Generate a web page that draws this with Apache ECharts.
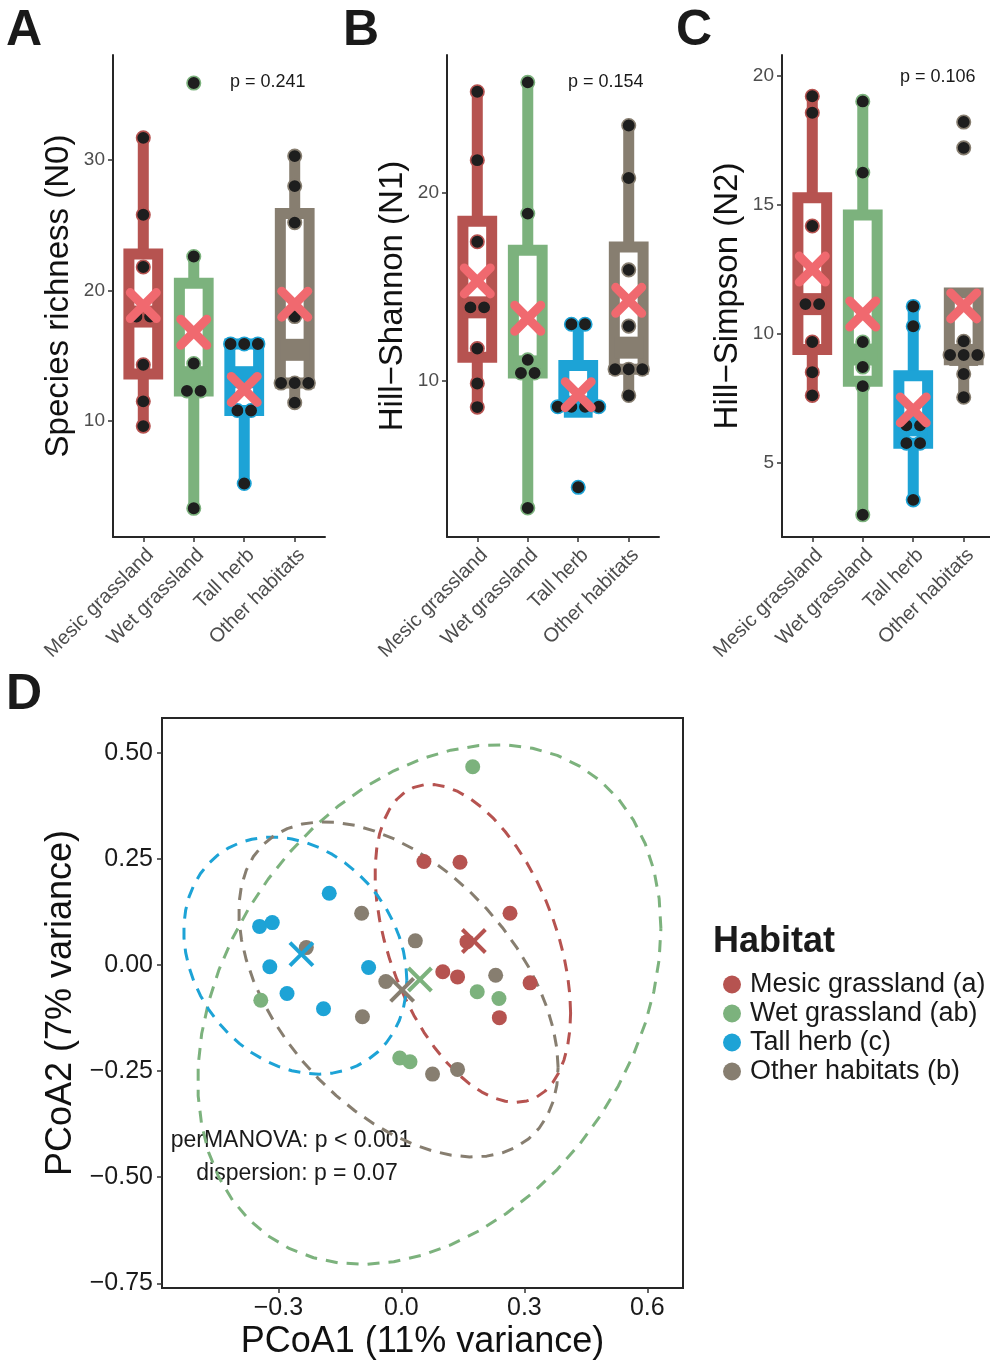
<!DOCTYPE html>
<html><head><meta charset="utf-8">
<script src="https://cdn.jsdelivr.net/npm/echarts@6/dist/echarts.min.js"></script>
<style>html,body{margin:0;padding:0;background:#fff}#c{width:990px;height:1363px}</style>
</head><body><div id="c"></div>
<script>
// ---------------- data ----------------
const categories = ['Mesic grassland', 'Wet grassland', 'Tall herb', 'Other habitats'];
const legendNames = ['Mesic grassland (a)', 'Wet grassland (ab)', 'Tall herb (c)', 'Other habitats (b)'];

// Panel A: Species richness (N0)
const richMesic = [31.7, 25.8, 21.8, 18.0, 18.0, 14.3, 11.5, 9.6];
const richWet   = [35.9, 22.6, 14.4, 12.3, 12.3, 3.3];
const richTall  = [15.9, 15.9, 15.9, 10.8, 10.8, 5.2];
const richOther = [30.3, 28.0, 25.2, 18.0, 12.9, 12.9, 12.9, 11.4];
const richTicks = [10, 20, 30];

// Panel B: Hill-Shannon (N1)
const shanMesic = [25.4, 21.75, 17.4, 13.9, 13.9, 11.7, 9.84, 8.58];
const shanWet   = [25.9, 18.9, 11.1, 10.4, 10.4, 3.2];
const shanTall  = [13.0, 13.0, 8.6, 8.6, 8.6, 8.6, 4.3];
const shanOther = [23.6, 20.8, 15.9, 12.9, 10.6, 10.6, 10.6, 9.2];
const shanTicks = [10, 20];

// Panel C: Hill-Simpson (N2)
const simpMesic = [19.2, 18.56, 14.17, 11.14, 11.14, 9.67, 8.5, 7.6];
const simpWet   = [19.0, 16.24, 9.67, 8.7, 7.96, 2.97];
const simpTall  = [11.05, 10.28, 6.44, 6.44, 5.75, 5.75, 3.55];
const simpOther = [18.2, 17.2, 9.7, 9.17, 9.17, 9.17, 8.43, 7.53];
const simpTicks = [5, 10, 15, 20];

const pValues = ['p = 0.241', 'p = 0.154', 'p = 0.106'];

// Panel D: PCoA scores [PCoA1, PCoA2]
const pcoaMesic = [[0.055, 0.244], [0.143, 0.242], [0.265, 0.122], [0.160, 0.055], [0.101, -0.016], [0.137, -0.028], [0.314, -0.042], [0.239, -0.124]];
const pcoaWet   = [[0.174, 0.467], [-0.343, -0.083], [0.185, -0.063], [0.238, -0.079], [-0.004, -0.219], [0.021, -0.228]];
const pcoaTall  = [[-0.176, 0.169], [-0.346, 0.091], [-0.315, 0.100], [-0.321, -0.004], [-0.080, -0.006], [-0.279, -0.067], [-0.190, -0.103]];
const pcoaOther = [[-0.097, 0.122], [0.034, 0.057], [-0.232, 0.041], [-0.038, -0.039], [0.230, -0.024], [-0.095, -0.122], [0.076, -0.257], [0.137, -0.246]];
const pcoaXTicks = [-0.3, 0, 0.3, 0.6];
const pcoaYTicks = [-0.75, -0.5, -0.25, 0, 0.25, 0.5];
const statsText = ['perMANOVA: p < 0.001', 'dispersion: p = 0.07'];

// ---------------- style ----------------
const FONT = '"Liberation Sans", Arial, Helvetica, sans-serif';
const COLORS = ['#B65350', '#7CB27D', '#1DA3D6', '#877E70'];
const MEAN_COLOR = '#F0696F';
const DOT_COLOR = '#1e1e1e';
const AXIS_COLOR = '#262626';
const BOX_W = 0.57, BOX_LW = 11, DOT_STEP = 0.27;

// ---------------- helpers ----------------
function quantile(s, p) {
  const h = (s.length - 1) * p, lo = Math.floor(h);
  const hi = Math.min(lo + 1, s.length - 1);
  return s[lo] + (h - lo) * (s[hi] - s[lo]);
}
function boxStats(vals) {
  const s = vals.slice().sort((a, b) => a - b);
  const q1 = quantile(s, 0.25), med = quantile(s, 0.5), q3 = quantile(s, 0.75);
  const iqr = q3 - q1;
  const inside = s.filter(v => v >= q1 - 1.5 * iqr && v <= q3 + 1.5 * iqr);
  return [Math.min(...inside), q1, med, q3, Math.max(...inside)];
}
function mean(a) { return a.reduce((x, y) => x + y, 0) / a.length; }
function dotLayout(values, center) {
  const counts = {}, seen = {};
  values.forEach(v => counts[v] = (counts[v] || 0) + 1);
  return values.map(v => {
    const k = counts[v]; const j = seen[v] = (seen[v] || 0) + 1;
    return [center + (j - 1 - (k - 1) / 2) * DOT_STEP, v];
  });
}
// MASS::cov.trob (nu = 5) for 2-D data
function covTrob(pts) {
  const n = pts.length, p = 2, nu = 5;
  let loc = [mean(pts.map(q => q[0])), mean(pts.map(q => q[1]))];
  let w = new Array(n).fill(1), X;
  for (let it = 0; it < 25; it++) {
    const w0 = w.slice();
    X = pts.map(q => [q[0] - loc[0], q[1] - loc[1]]);
    const sw = w.reduce((a, b) => a + b, 0);
    let s11 = 0, s12 = 0, s22 = 0;
    X.forEach((d, i) => { const f = w[i] / sw; s11 += f * d[0] * d[0]; s12 += f * d[0] * d[1]; s22 += f * d[1] * d[1]; });
    const det = s11 * s22 - s12 * s12;
    const Q = X.map(d => (s22 * d[0] * d[0] - 2 * s12 * d[0] * d[1] + s11 * d[1] * d[1]) / det);
    w = Q.map(q => (nu + p) / (nu + q));
    const sw2 = w.reduce((a, b) => a + b, 0);
    loc = [pts.reduce((a, q, i) => a + w[i] * q[0], 0) / sw2, pts.reduce((a, q, i) => a + w[i] * q[1], 0) / sw2];
    if (w.every((v, i) => Math.abs(v - w0[i]) < 0.01)) break;
  }
  let c11 = 0, c12 = 0, c22 = 0;
  X.forEach((d, i) => { c11 += w[i] * d[0] * d[0]; c12 += w[i] * d[0] * d[1]; c22 += w[i] * d[1] * d[1]; });
  return { center: loc, cov: [c11 / n, c12 / n, c22 / n] };
}
function ellipse(pts) {
  const t = covTrob(pts), dfd = pts.length - 1;
  const f = (dfd / 2) * (Math.pow(0.05, -2 / dfd) - 1);
  const r = Math.sqrt(2 * f);
  const a = Math.sqrt(t.cov[0]), b = t.cov[1] / a, c = Math.sqrt(t.cov[2] - b * b);
  const out = [];
  for (let k = 0; k <= 51; k++) {
    const ang = 2 * Math.PI * k / 51, u = Math.cos(ang), v = Math.sin(ang);
    out.push([t.center[0] + r * u * a, t.center[1] + r * (u * b + v * c)]);
  }
  return out;
}

// ---------------- panels A-C ----------------
const panels = [
  { groups: [richMesic, richWet, richTall, richOther], min: 1.1, max: 38.05, ticks: richTicks, title: 'Species richness (N0)', left: 113 },
  { groups: [shanMesic, shanWet, shanTall, shanOther], min: 1.65, max: 27.36, ticks: shanTicks, title: 'Hill\u2212Shannon (N1)', left: 447 },
  { groups: [simpMesic, simpWet, simpTall, simpOther], min: 2.11, max: 20.8, ticks: simpTicks, title: 'Hill\u2212Simpson (N2)', left: 782 }
];
const catTicks = [1, 2, 3, 4];

const grids = [], xAxes = [], yAxes = [], series = [];
panels.forEach((pn, pi) => {
  grids.push({ left: pn.left, top: 55, width: 212, height: 482, outerBoundsMode: 'none', containLabel: false });
  xAxes.push({
    gridIndex: pi, type: 'value', min: 0.4, max: 4.6,
    axisLine: { show: true, onZero: false, lineStyle: { color: AXIS_COLOR, width: 2 } },
    axisTick: { show: true, customValues: catTicks, length: 5, lineStyle: { color: '#333', width: 1.5 } },
    axisLabel: { customValues: catTicks, rotate: 45, margin: 8, align: 'right', verticalAlign: 'top',
      fontSize: 20, fontFamily: FONT, color: '#4D4D4D',
      formatter: v => categories[Math.round(v) - 1] },
    splitLine: { show: false }
  });
  yAxes.push({
    gridIndex: pi, type: 'value', min: pn.min, max: pn.max,
    name: pn.title, nameLocation: 'middle', nameGap: 38,
    nameTextStyle: { fontSize: 33, fontFamily: FONT, color: '#111' },
    axisLine: { show: true, onZero: false, lineStyle: { color: AXIS_COLOR, width: 2 } },
    axisTick: { show: true, customValues: pn.ticks, length: 5, lineStyle: { color: '#333', width: 1.5 } },
    axisLabel: { customValues: pn.ticks, margin: 8, fontSize: 19, fontFamily: FONT, color: '#4D4D4D' },
    splitLine: { show: false }
  });
  // boxes
  series.push({
    type: 'custom', xAxisIndex: pi, yAxisIndex: pi, z: 2, silent: true,
    data: pn.groups.map((g, i) => [i + 1].concat(boxStats(g))),
    encode: { x: 0, y: [1, 5] },
    renderItem: function (params, api) {
      const cx = api.value(0), lo = api.value(1), q1 = api.value(2), md = api.value(3), q3 = api.value(4), hi = api.value(5);
      const col = COLORS[cx - 1];
      const tl = api.coord([cx - BOX_W / 2, q3]), br = api.coord([cx + BOX_W / 2, q1]);
      const ml = api.coord([cx - BOX_W / 2, md]), mr = api.coord([cx + BOX_W / 2, md]);
      const pHi = api.coord([cx, hi]), pQ3 = api.coord([cx, q3]), pLo = api.coord([cx, lo]), pQ1 = api.coord([cx, q1]);
      const ls = { stroke: col, lineWidth: BOX_LW, lineCap: 'butt' };
      return { type: 'group', children: [
        { type: 'line', shape: { x1: pHi[0], y1: pHi[1], x2: pQ3[0], y2: pQ3[1] }, style: ls },
        { type: 'line', shape: { x1: pLo[0], y1: pLo[1], x2: pQ1[0], y2: pQ1[1] }, style: ls },
        { type: 'rect', shape: { x: tl[0], y: tl[1], width: br[0] - tl[0], height: br[1] - tl[1] },
          style: { fill: '#fff', stroke: col, lineWidth: BOX_LW, lineJoin: 'miter' } },
        { type: 'line', shape: { x1: ml[0], y1: ml[1], x2: mr[0], y2: mr[1] }, style: { stroke: col, lineWidth: BOX_LW * 2, lineCap: 'butt' } }
      ] };
    }
  });
  // points
  const pts = [];
  pn.groups.forEach((g, i) => dotLayout(g, i + 1).forEach(d => pts.push({ value: d, itemStyle: { borderColor: COLORS[i] } })));
  series.push({
    type: 'scatter', xAxisIndex: pi, yAxisIndex: pi, z: 3, silent: true,
    symbolSize: 13.5, data: pts,
    itemStyle: { color: DOT_COLOR, borderWidth: 1.6, opacity: 1 }
  });
  // means
  series.push({
    type: 'custom', xAxisIndex: pi, yAxisIndex: pi, z: 4, silent: true,
    data: pn.groups.map((g, i) => [i + 1, mean(g)]),
    encode: { x: 0, y: 1 },
    renderItem: function (params, api) {
      const c = api.coord([api.value(0), api.value(1)]), h = 13;
      const st = { stroke: MEAN_COLOR, lineWidth: 9, lineCap: 'round' };
      return { type: 'group', children: [
        { type: 'line', shape: { x1: c[0] - h, y1: c[1] - h, x2: c[0] + h, y2: c[1] + h }, style: st },
        { type: 'line', shape: { x1: c[0] - h, y1: c[1] + h, x2: c[0] + h, y2: c[1] - h }, style: st }
      ] };
    }
  });
});

// ---------------- panel D ----------------
const dGroups = [pcoaMesic, pcoaWet, pcoaTall, pcoaOther];
grids.push({ left: 162, top: 718, width: 521, height: 570, show: true, borderColor: AXIS_COLOR, borderWidth: 2,
  backgroundColor: 'transparent', outerBoundsMode: 'none', containLabel: false });
xAxes.push({
  gridIndex: 3, type: 'value', min: -0.584, max: 0.687,
  name: 'PCoA1 (11% variance)', nameLocation: 'middle', nameGap: 36,
  nameTextStyle: { fontSize: 36, fontFamily: FONT, color: '#111' },
  axisLine: { show: true, onZero: false, lineStyle: { color: AXIS_COLOR, width: 2 } },
  axisTick: { show: true, customValues: pcoaXTicks, length: 5, lineStyle: { color: '#333', width: 1.5 } },
  axisLabel: { customValues: pcoaXTicks, margin: 8, fontSize: 25, fontFamily: FONT, color: '#1a1a1a',
    formatter: v => (v < 0 ? '\u2212' : '') + Math.abs(v).toFixed(1) },
  splitLine: { show: false }
});
yAxes.push({
  gridIndex: 3, type: 'value', min: -0.761, max: 0.582,
  name: 'PCoA2 (7% variance)', nameLocation: 'middle', nameGap: 82,
  nameTextStyle: { fontSize: 36, fontFamily: FONT, color: '#111' },
  axisLine: { show: true, onZero: false, lineStyle: { color: AXIS_COLOR, width: 2 } },
  axisTick: { show: true, customValues: pcoaYTicks, length: 5, lineStyle: { color: '#333', width: 1.5 } },
  axisLabel: { customValues: pcoaYTicks, margin: 9, fontSize: 25, fontFamily: FONT, color: '#1a1a1a',
    formatter: v => (v < 0 ? '\u2212' : '') + Math.abs(v).toFixed(2) },
  splitLine: { show: false }
});
dGroups.forEach((g, i) => {
  series.push({
    type: 'line', xAxisIndex: 3, yAxisIndex: 3, z: 2, silent: true, name: 'ellipse' + i,
    data: ellipse(g), showSymbol: false, symbol: 'none', smooth: false,
    lineStyle: { color: COLORS[i], width: 3, type: [12, 9] }
  });
});
dGroups.forEach((g, i) => {
  series.push({
    type: 'scatter', xAxisIndex: 3, yAxisIndex: 3, z: 3, silent: true, name: legendNames[i],
    data: g, symbolSize: 15, itemStyle: { color: COLORS[i], opacity: 1 }
  });
});
dGroups.forEach((g, i) => {
  series.push({
    type: 'custom', xAxisIndex: 3, yAxisIndex: 3, z: 4, silent: true, name: 'centroid' + i,
    data: [[mean(g.map(q => q[0])), mean(g.map(q => q[1]))]],
    encode: { x: 0, y: 1 },
    renderItem: function (params, api) {
      const c = api.coord([api.value(0), api.value(1)]), h = 11.5;
      const st = { stroke: COLORS[i], lineWidth: 4 };
      return { type: 'group', children: [
        { type: 'line', shape: { x1: c[0] - h, y1: c[1] - h, x2: c[0] + h, y2: c[1] + h }, style: st },
        { type: 'line', shape: { x1: c[0] - h, y1: c[1] + h, x2: c[0] + h, y2: c[1] - h }, style: st }
      ] };
    }
  });
});

// ---------------- text ----------------
function txt(text, x, y, size, opts) {
  return { type: 'text', x: x, y: y, silent: true,
    style: Object.assign({ text: text, fontSize: size, fontFamily: FONT, fill: '#1a1a1a', align: 'left', verticalAlign: 'middle' }, (opts || {})) };
}
const graphic = [
  txt('A', 6, 31, 50, { fontWeight: 'bold' }),
  txt('B', 343, 31, 50, { fontWeight: 'bold' }),
  txt('C', 676, 31, 50, { fontWeight: 'bold' }),
  txt('D', 6, 695, 50, { fontWeight: 'bold' }),
  txt(pValues[0], 230, 82, 18),
  txt(pValues[1], 568, 82, 18),
  txt(pValues[2], 900, 77, 18),
  txt(statsText[0], 291, 1141, 23, { align: 'center' }),
  txt(statsText[1], 297, 1174, 23, { align: 'center' }),
  txt('Habitat', 713, 942, 36, { fontWeight: 'bold' })
];

const chart = echarts.init(document.getElementById('c'), null, { renderer: 'canvas' });
chart.setOption({
  animation: false,
  backgroundColor: '#fff',
  textStyle: { fontFamily: FONT },
  grid: grids, xAxis: xAxes, yAxis: yAxes, series: series, graphic: graphic,
  legend: {
    data: legendNames, orient: 'vertical', left: 718, top: 965, icon: 'circle',
    itemWidth: 18, itemHeight: 18, itemGap: 0, selectedMode: false,
    textStyle: { fontSize: 27, fontFamily: FONT, color: '#1a1a1a', lineHeight: 29, padding: [0, 0, 0, 4] }
  }
});
</script></body></html>
